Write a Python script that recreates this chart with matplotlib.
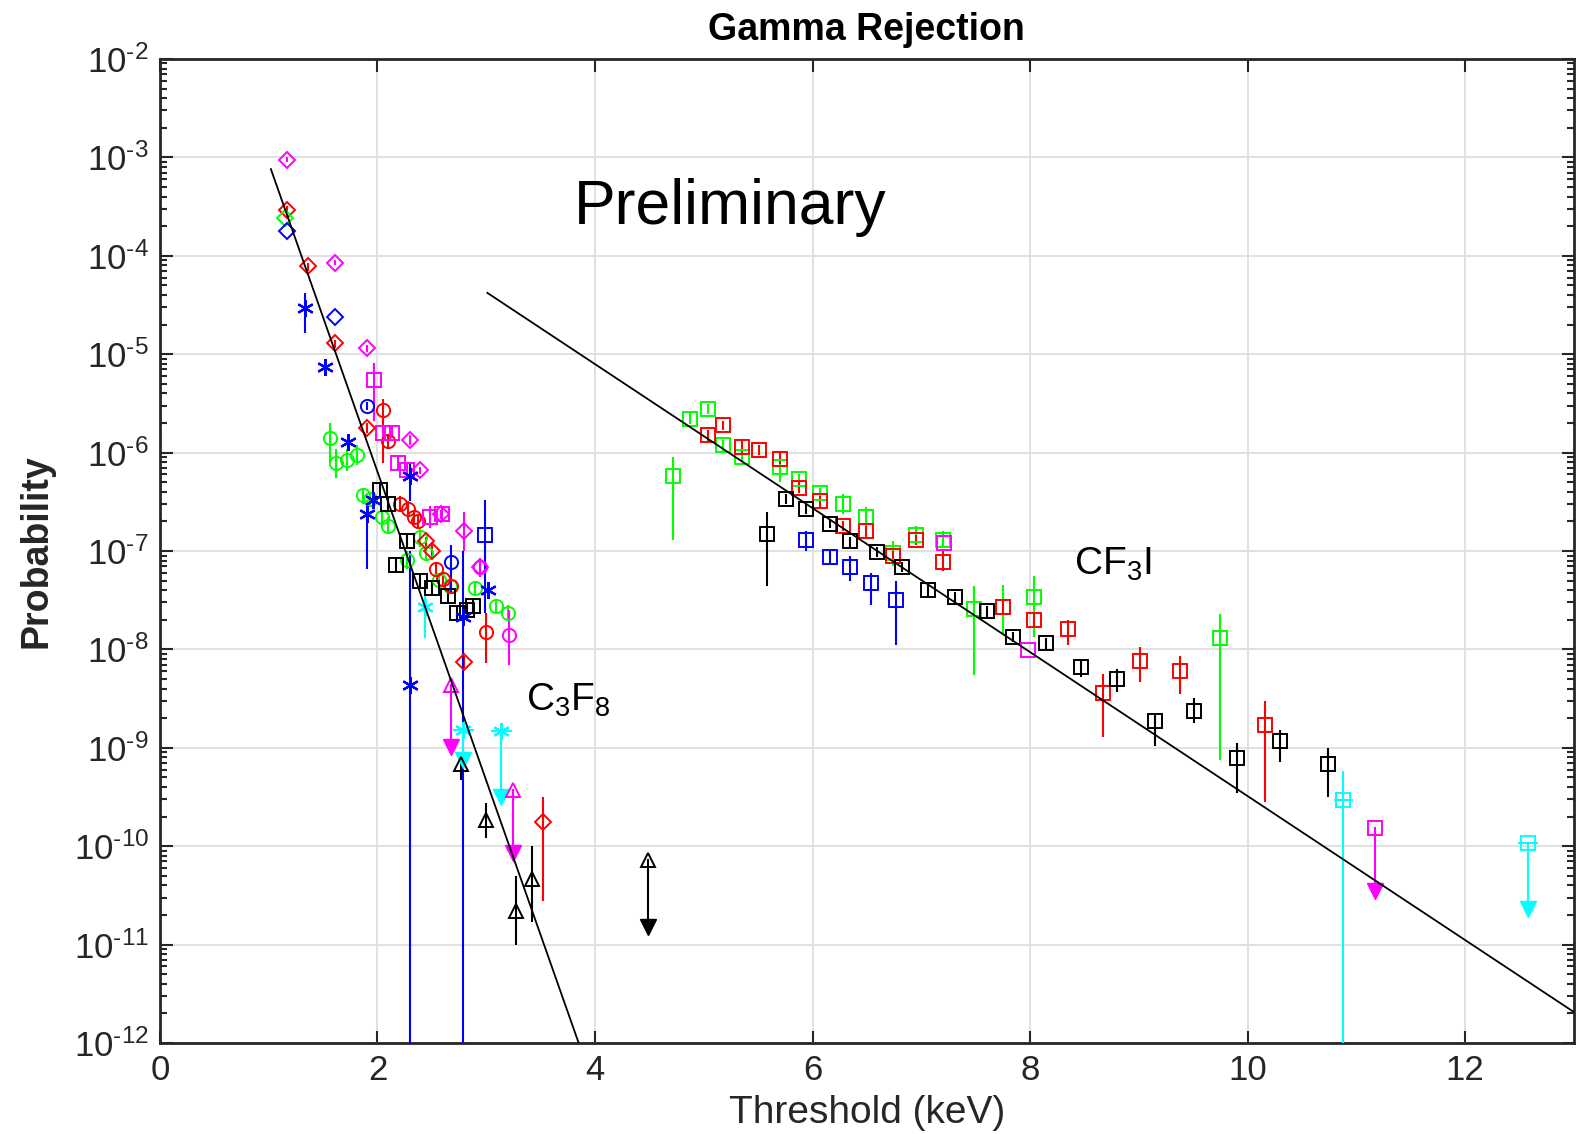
import matplotlib
matplotlib.use("Agg")
import matplotlib.pyplot as plt
from matplotlib.ticker import LogLocator, NullFormatter
import numpy as np

plt.rcParams['font.family'] = ['Liberation Sans', 'DejaVu Sans']
plt.rcParams['mathtext.fontset'] = 'custom'
plt.rcParams['mathtext.rm'] = 'Liberation Sans'
plt.rcParams['mathtext.it'] = 'Liberation Sans'
plt.rcParams['mathtext.default'] = 'regular'

TXT = '#262626'
MAG = '#ff00ff'
CYA = '#00ffff'
GRN = '#00ff00'
RED = '#ff0000'
BLU = '#0000ff'

# ---- C3F8 runs (threshold keV, probability, error low, error high) ----
mag_d_x = [1.165, 1.61, 1.90, 2.30, 2.39, 2.58, 2.80, 2.94]
mag_d_y = [9.5e-4, 8.5e-5, 1.15e-5, 1.35e-6, 6.6e-7, 2.35e-7, 1.6e-7, 6.9e-8]
mag_d_lo = [9.0e-4, 8.0e-5, 1.05e-5, 1.2e-6, 6.0e-7, 2.1e-7, 1.0e-7, 6.0e-8]
mag_d_hi = [1.0e-3, 9.0e-5, 1.25e-5, 1.5e-6, 7.2e-7, 2.6e-7, 2.5e-7, 8.0e-8]

red_d_x = [1.165, 1.36, 1.61, 1.90, 2.45, 2.50, 2.80, 3.52]
red_d_y = [2.95e-4, 7.8e-5, 1.29e-5, 1.78e-6, 1.26e-7, 1.0e-7, 7.4e-9, 1.78e-10]
red_d_lo = [2.7e-4, 7.0e-5, 1.15e-5, 1.6e-6, 1.1e-7, 8.5e-8, 6.5e-9, 2.75e-11]
red_d_hi = [3.2e-4, 8.5e-5, 1.4e-5, 2.0e-6, 1.4e-7, 1.15e-7, 8.5e-9, 3.2e-10]

blue_d_x = [1.165, 1.61]
blue_d_y = [1.78e-4, 2.4e-5]
green_d_x = [1.15]
green_d_y = [2.4e-4]

blue_st_x = [1.33, 1.52, 1.73, 1.90, 1.96, 2.30, 2.30, 2.79, 3.02]
blue_st_y = [2.95e-5, 7.4e-6, 1.29e-6, 2.4e-7, 3.3e-7, 5.75e-7, 4.3e-9, 2.15e-8, 4.0e-8]
blue_st_lo = [1.66e-5, 6.8e-6, 1.15e-6, 6.5e-8, 3.0e-7, 3.2e-7, 1e-13, 1e-13, 3.5e-8]
blue_st_hi = [4.2e-5, 8.0e-6, 1.4e-6, 3.1e-7, 3.6e-7, 8.0e-7, 1.0e-7, 1.0e-7, 4.5e-8]

blue_o_x = [1.90, 2.68]
blue_o_y = [2.95e-6, 7.8e-8]
blue_o_lo = [2.7e-6, 3.7e-8]
blue_o_hi = [3.3e-6, 1.15e-7]

blue_s_x = [2.99]
blue_s_y = [1.45e-7]
blue_s_lo = [2.35e-8]
blue_s_hi = [3.3e-7]

green_o_x = [1.56, 1.62, 1.72, 1.81, 1.87, 1.93, 2.04, 2.10, 2.27, 2.39, 2.45,
             2.57, 2.67, 2.90, 3.09, 3.20]
green_o_y = [1.4e-6, 7.9e-7, 8.5e-7, 9.5e-7, 3.7e-7, 3.4e-7, 2.2e-7, 1.8e-7, 8.1e-8,
             1.4e-7, 9.5e-8, 5.1e-8, 4.4e-8, 4.2e-8, 2.75e-8, 2.35e-8]
green_o_lo = [7.9e-7, 5.5e-7, 6.5e-7, 7.5e-7, 3.0e-7, 2.8e-7, 1.8e-7, 1.5e-7, 6.5e-8,
              1.1e-7, 8.0e-8, 4.2e-8, 3.7e-8, 3.6e-8, 2.3e-8, 2.0e-8]
green_o_hi = [2.0e-6, 1.1e-6, 1.1e-6, 1.2e-6, 4.4e-7, 4.0e-7, 2.6e-7, 2.2e-7, 1.0e-7,
              1.7e-7, 1.1e-7, 6.0e-8, 5.2e-8, 5.0e-8, 3.2e-8, 2.8e-8]

red_o_x = [2.05, 2.10, 2.21, 2.28, 2.34, 2.37, 2.54, 2.60, 2.68, 3.00]
red_o_y = [2.7e-6, 1.3e-6, 3.0e-7, 2.7e-7, 2.2e-7, 2.0e-7, 6.5e-8, 5.2e-8, 4.4e-8, 1.5e-8]
red_o_lo = [7.9e-7, 1.1e-6, 2.5e-7, 2.3e-7, 1.85e-7, 1.7e-7, 5.5e-8, 4.4e-8, 3.7e-8, 7.2e-9]
red_o_hi = [3.5e-6, 1.5e-6, 3.6e-7, 3.2e-7, 2.6e-7, 2.4e-7, 7.5e-8, 6.0e-8, 5.2e-8, 2.35e-8]

mag_s_x = [1.97, 2.05, 2.13, 2.19, 2.27, 2.48, 2.59]
mag_s_y = [5.5e-6, 1.6e-6, 1.6e-6, 7.9e-7, 6.6e-7, 2.2e-7, 2.4e-7]
mag_s_lo = [2.1e-6, 1.4e-6, 1.4e-6, 6.5e-7, 5.6e-7, 1.7e-7, 2.0e-7]
mag_s_hi = [8.1e-6, 1.8e-6, 1.8e-6, 9.5e-7, 7.8e-7, 2.9e-7, 2.9e-7]

mag_o_x = [2.94, 3.21]
mag_o_y = [6.9e-8, 1.4e-8]
mag_o_lo = [5.5e-8, 7.0e-9]
mag_o_hi = [8.5e-8, 2.5e-8]

blk_l_x = [2.02, 2.10, 2.27, 2.17, 2.39, 2.50, 2.65, 2.73, 2.82, 2.88]
blk_l_y = [4.2e-7, 3.0e-7, 1.26e-7, 7.2e-8, 4.9e-8, 4.2e-8, 3.5e-8, 2.35e-8, 2.5e-8, 2.75e-8]
blk_l_lo = [3.6e-7, 2.6e-7, 1.05e-7, 6.0e-8, 4.2e-8, 3.6e-8, 3.0e-8, 2.0e-8, 2.1e-8, 2.3e-8]
blk_l_hi = [4.9e-7, 3.5e-7, 1.5e-7, 8.5e-8, 5.7e-8, 4.9e-8, 4.1e-8, 2.8e-8, 3.0e-8, 3.3e-8]

cyan_st_x = [2.44]
cyan_st_y = [2.7e-8]
cyan_st_lo = [1.3e-8]
cyan_st_hi = [5.0e-8]

# upper limits: marker value and arrow tip
cyan_ul_x = [2.79, 3.14]
cyan_ul_y = [1.5e-9, 1.48e-9]
cyan_ul_tip = [7.6e-10, 3.2e-10]

blk_t_x = [2.77, 3.00, 3.27, 3.42]
blk_t_y = [6.9e-10, 1.86e-10, 2.2e-11, 4.6e-11]
blk_t_lo = [4.7e-10, 1.2e-10, 1.0e-11, 1.7e-11]
blk_t_hi = [8.7e-10, 2.75e-10, 5.0e-11, 1.0e-10]

blk_ul_x = [4.49]
blk_ul_y = [7.2e-11]
blk_ul_tip = [1.5e-11]

mag_ul_x = [2.68, 3.25]
mag_ul_y = [4.4e-9, 3.7e-10]
mag_ul_tip = [1.02e-9, 8.5e-11]

# ---- CF3I runs ----
cf_green_x = [4.72, 4.87, 5.04, 5.18, 5.35, 5.51, 5.70, 5.88, 6.07, 6.28, 6.49, 6.74,
              6.95, 7.20, 7.48, 7.75, 8.04, 9.75]
cf_green_y = [5.75e-7, 2.2e-6, 2.75e-6, 1.2e-6, 9.1e-7, 1.07e-6, 7.1e-7, 5.4e-7, 3.9e-7,
              3.0e-7, 2.2e-7, 9.5e-8, 1.45e-7, 1.3e-7, 2.6e-8, 2.7e-8, 3.4e-8, 1.3e-8]
cf_green_lo = [1.3e-7, 1.95e-6, 2.45e-6, 1.05e-6, 8.0e-7, 9.5e-7, 5.0e-7, 4.8e-7, 3.5e-7,
               2.4e-7, 1.7e-7, 7.1e-8, 1.17e-7, 1.07e-7, 5.5e-9, 1.4e-8, 1.35e-8, 7.6e-10]
cf_green_hi = [9.1e-7, 2.5e-6, 3.1e-6, 1.35e-6, 1.0e-6, 1.2e-6, 8.0e-7, 6.1e-7, 4.4e-7,
               3.8e-7, 2.8e-7, 1.26e-7, 1.78e-7, 1.6e-7, 4.4e-8, 4.5e-8, 5.6e-8, 2.3e-8]

cf_red_x = [5.04, 5.18, 5.35, 5.51, 5.70, 5.88, 6.07, 6.28, 6.49, 6.74, 6.95, 7.20,
            7.75, 8.04, 8.35, 8.67, 9.01, 9.38, 10.16]
cf_red_y = [1.5e-6, 1.9e-6, 1.15e-6, 1.07e-6, 8.7e-7, 4.4e-7, 3.2e-7, 1.8e-7, 1.6e-7,
            8.9e-8, 1.3e-7, 7.8e-8, 2.7e-8, 2.0e-8, 1.6e-8, 3.6e-9, 7.6e-9, 6.0e-9, 1.7e-9]
cf_red_lo = [1.3e-6, 1.7e-6, 1.0e-6, 9.5e-7, 7.6e-7, 3.9e-7, 2.8e-7, 1.6e-7, 1.4e-7,
             7.8e-8, 1.15e-7, 6.3e-8, 2.3e-8, 1.75e-8, 1.1e-8, 1.3e-9, 4.7e-9, 3.5e-9, 2.8e-10]
cf_red_hi = [1.7e-6, 2.1e-6, 1.3e-6, 1.2e-6, 9.8e-7, 5.0e-7, 3.6e-7, 2.0e-7, 1.8e-7,
             1.0e-7, 1.45e-7, 1.0e-7, 3.1e-8, 2.3e-8, 2.0e-8, 5.6e-9, 1.05e-8, 8.5e-9, 3.0e-9]

cf_blk_x = [5.58, 5.76, 5.94, 6.16, 6.34, 6.59, 6.82, 7.06, 7.31, 7.60, 7.84, 8.15,
            8.47, 8.80, 9.15, 9.51, 9.90, 10.30, 10.74]
cf_blk_y = [1.5e-7, 3.4e-7, 2.7e-7, 1.9e-7, 1.26e-7, 9.8e-8, 6.9e-8, 4.0e-8, 3.4e-8,
            2.45e-8, 1.35e-8, 1.15e-8, 6.6e-9, 5.0e-9, 1.86e-9, 2.35e-9, 7.9e-10,
            1.17e-9, 6.8e-10]
cf_blk_lo = [4.4e-8, 3.0e-7, 2.4e-7, 1.7e-7, 1.1e-7, 8.7e-8, 6.1e-8, 3.5e-8, 3.0e-8,
             2.15e-8, 1.2e-8, 1.0e-8, 5.2e-9, 3.7e-9, 1.05e-9, 1.78e-9, 3.5e-10,
             7.1e-10, 3.2e-10]
cf_blk_hi = [2.5e-7, 3.8e-7, 3.0e-7, 2.1e-7, 1.4e-7, 1.1e-7, 7.8e-8, 4.5e-8, 3.8e-8,
             2.75e-8, 1.5e-8, 1.3e-8, 7.9e-9, 6.3e-9, 2.2e-9, 3.2e-9, 1.12e-9,
             1.5e-9, 1.0e-9]

cf_blue_x = [5.94, 6.16, 6.34, 6.54, 6.77]
cf_blue_y = [1.3e-7, 8.7e-8, 6.9e-8, 4.7e-8, 3.2e-8]
cf_blue_lo = [1.0e-7, 7.6e-8, 5.0e-8, 2.8e-8, 1.1e-8]
cf_blue_hi = [1.6e-7, 1.0e-7, 8.9e-8, 6.0e-8, 4.9e-8]

cf_mag_x = [7.21, 7.98]
cf_mag_y = [1.2e-7, 9.8e-9]

cf_cyan_x = [10.88]
cf_cyan_y = [2.95e-10]
cf_cyan_lo = [1e-13]
cf_cyan_hi = [5.8e-10]

cf_mag_ul_x = [11.17]
cf_mag_ul_y = [1.55e-10]
cf_mag_ul_tip = [3.5e-11]

cf_cyan_ul_x = [12.58]
cf_cyan_ul_y = [1.07e-10]
cf_cyan_ul_tip = [2.3e-11]

# exponential fits
c3f8_fit_x = [1.02, 3.85]
c3f8_fit_y = [7.6e-4, 1.0e-12]
cf3i_fit_x = [3.01, 12.99]
cf3i_fit_y = [4.2e-5, 2.1e-12]

STAR = (6, 2, 0)
MS = {'D': 8.5, 'o': 9.5, 's': 9.5, '^': 9.5, STAR: 12}


def pts(ax, x, y, color, marker, lo=None, hi=None, xerr=None):
    x = np.asarray(x)
    y = np.asarray(y)
    if lo is None:
        lo, hi = y, y
    yerr = [y - np.asarray(lo), np.asarray(hi) - y]
    ax.errorbar(x, y, yerr=yerr, xerr=xerr, fmt='none', ecolor=color,
                elinewidth=1.5, capsize=0, zorder=3)
    filled = marker == STAR
    ax.plot(x, y, linestyle='none', marker=marker, ms=MS[marker],
            mfc=color if filled else 'none', mec=color,
            mew=1.6 if filled else 1.4, zorder=4)


def upper(ax, x, y, tip, color, marker, xerr=None):
    pts(ax, x, y, color, marker, xerr=xerr)
    for xi, yi, ti in zip(x, y, tip):
        ax.plot([xi, xi], [yi, ti], color=color, lw=1.5, zorder=3)
    ax.plot(x, tip, linestyle='none', marker='v', ms=11, color=color, zorder=4)


fig = plt.figure(figsize=(15.82, 11.34), dpi=100)
ax = fig.add_axes([0.1011, 0.0802, 0.8938, 0.8678])

pts(ax, green_o_x, green_o_y, GRN, 'o', green_o_lo, green_o_hi)
pts(ax, red_o_x, red_o_y, RED, 'o', red_o_lo, red_o_hi)
pts(ax, blk_l_x, blk_l_y, 'k', 's', blk_l_lo, blk_l_hi)
pts(ax, mag_s_x, mag_s_y, MAG, 's', mag_s_lo, mag_s_hi)
pts(ax, mag_o_x, mag_o_y, MAG, 'o', mag_o_lo, mag_o_hi)
pts(ax, mag_d_x, mag_d_y, MAG, 'D', mag_d_lo, mag_d_hi)
pts(ax, red_d_x, red_d_y, RED, 'D', red_d_lo, red_d_hi)
pts(ax, green_d_x, green_d_y, GRN, 'D')
pts(ax, blue_d_x, blue_d_y, BLU, 'D')
pts(ax, blue_o_x, blue_o_y, BLU, 'o', blue_o_lo, blue_o_hi)
pts(ax, blue_s_x, blue_s_y, BLU, 's', blue_s_lo, blue_s_hi)
pts(ax, blue_st_x, blue_st_y, BLU, STAR, blue_st_lo, blue_st_hi)
pts(ax, cyan_st_x, cyan_st_y, CYA, STAR, cyan_st_lo, cyan_st_hi)
upper(ax, cyan_ul_x, cyan_ul_y, cyan_ul_tip, CYA, STAR, xerr=0.1)
pts(ax, blk_t_x, blk_t_y, 'k', '^', blk_t_lo, blk_t_hi)
upper(ax, blk_ul_x, blk_ul_y, blk_ul_tip, 'k', '^')
upper(ax, mag_ul_x, mag_ul_y, mag_ul_tip, MAG, '^')

pts(ax, cf_green_x, cf_green_y, GRN, 's', cf_green_lo, cf_green_hi)
pts(ax, cf_red_x, cf_red_y, RED, 's', cf_red_lo, cf_red_hi)
pts(ax, cf_blk_x, cf_blk_y, 'k', 's', cf_blk_lo, cf_blk_hi)
pts(ax, cf_blue_x, cf_blue_y, BLU, 's', cf_blue_lo, cf_blue_hi)
pts(ax, cf_mag_x, cf_mag_y, MAG, 's')
pts(ax, cf_cyan_x, cf_cyan_y, CYA, 's', cf_cyan_lo, cf_cyan_hi, xerr=0.09)
upper(ax, cf_mag_ul_x, cf_mag_ul_y, cf_mag_ul_tip, MAG, 's')
upper(ax, cf_cyan_ul_x, cf_cyan_ul_y, cf_cyan_ul_tip, CYA, 's', xerr=0.09)

ax.plot(c3f8_fit_x, c3f8_fit_y, color='k', lw=1.3, zorder=5)
ax.plot(cf3i_fit_x, cf3i_fit_y, color='k', lw=1.3, zorder=5)

ax.set_yscale('log')
ax.set_xlim(0, 13)
ax.set_ylim(1e-12, 1e-2)
ax.set_xticks([0, 2, 4, 6, 8, 10, 12])
ax.set_yticks([10.0 ** e for e in range(-12, -1)])
ax.set_yticklabels([r'$10^{\text{-}%d}$' % -e for e in range(-12, -1)])
ax.yaxis.set_minor_locator(LogLocator(base=10, subs=np.arange(2, 10), numticks=200))
ax.yaxis.set_minor_formatter(NullFormatter())
ax.grid(True, which='major', color='#dedede', lw=1.3)
ax.set_axisbelow(True)
ax.tick_params(which='both', direction='in', top=True, right=True,
               labelsize=25, colors=TXT, width=1.5)
ax.tick_params(which='major', length=9, pad=8)
ax.tick_params(which='minor', length=5)
for s in ax.spines.values():
    s.set_color(TXT)
    s.set_linewidth(2)

ax.text(3.81, 10 ** -3.68, 'Preliminary', fontsize=45, color='k', va='baseline')
ax.text(3.37, 10 ** -8.62, r'$C_3F_8$', fontsize=28, color='k', va='baseline')
ax.text(8.40, 10 ** -7.24, r'$CF_3I$', fontsize=28, color='k', va='baseline')

ax.set_title('Gamma Rejection', fontsize=27, fontweight='bold', pad=14)
ax.set_xlabel('Threshold (keV)', fontsize=28, color=TXT, labelpad=6)
ax.set_ylabel('Probability', fontsize=27, fontweight='bold', color=TXT, labelpad=14)

fig.savefig('out.png', dpi=100)
